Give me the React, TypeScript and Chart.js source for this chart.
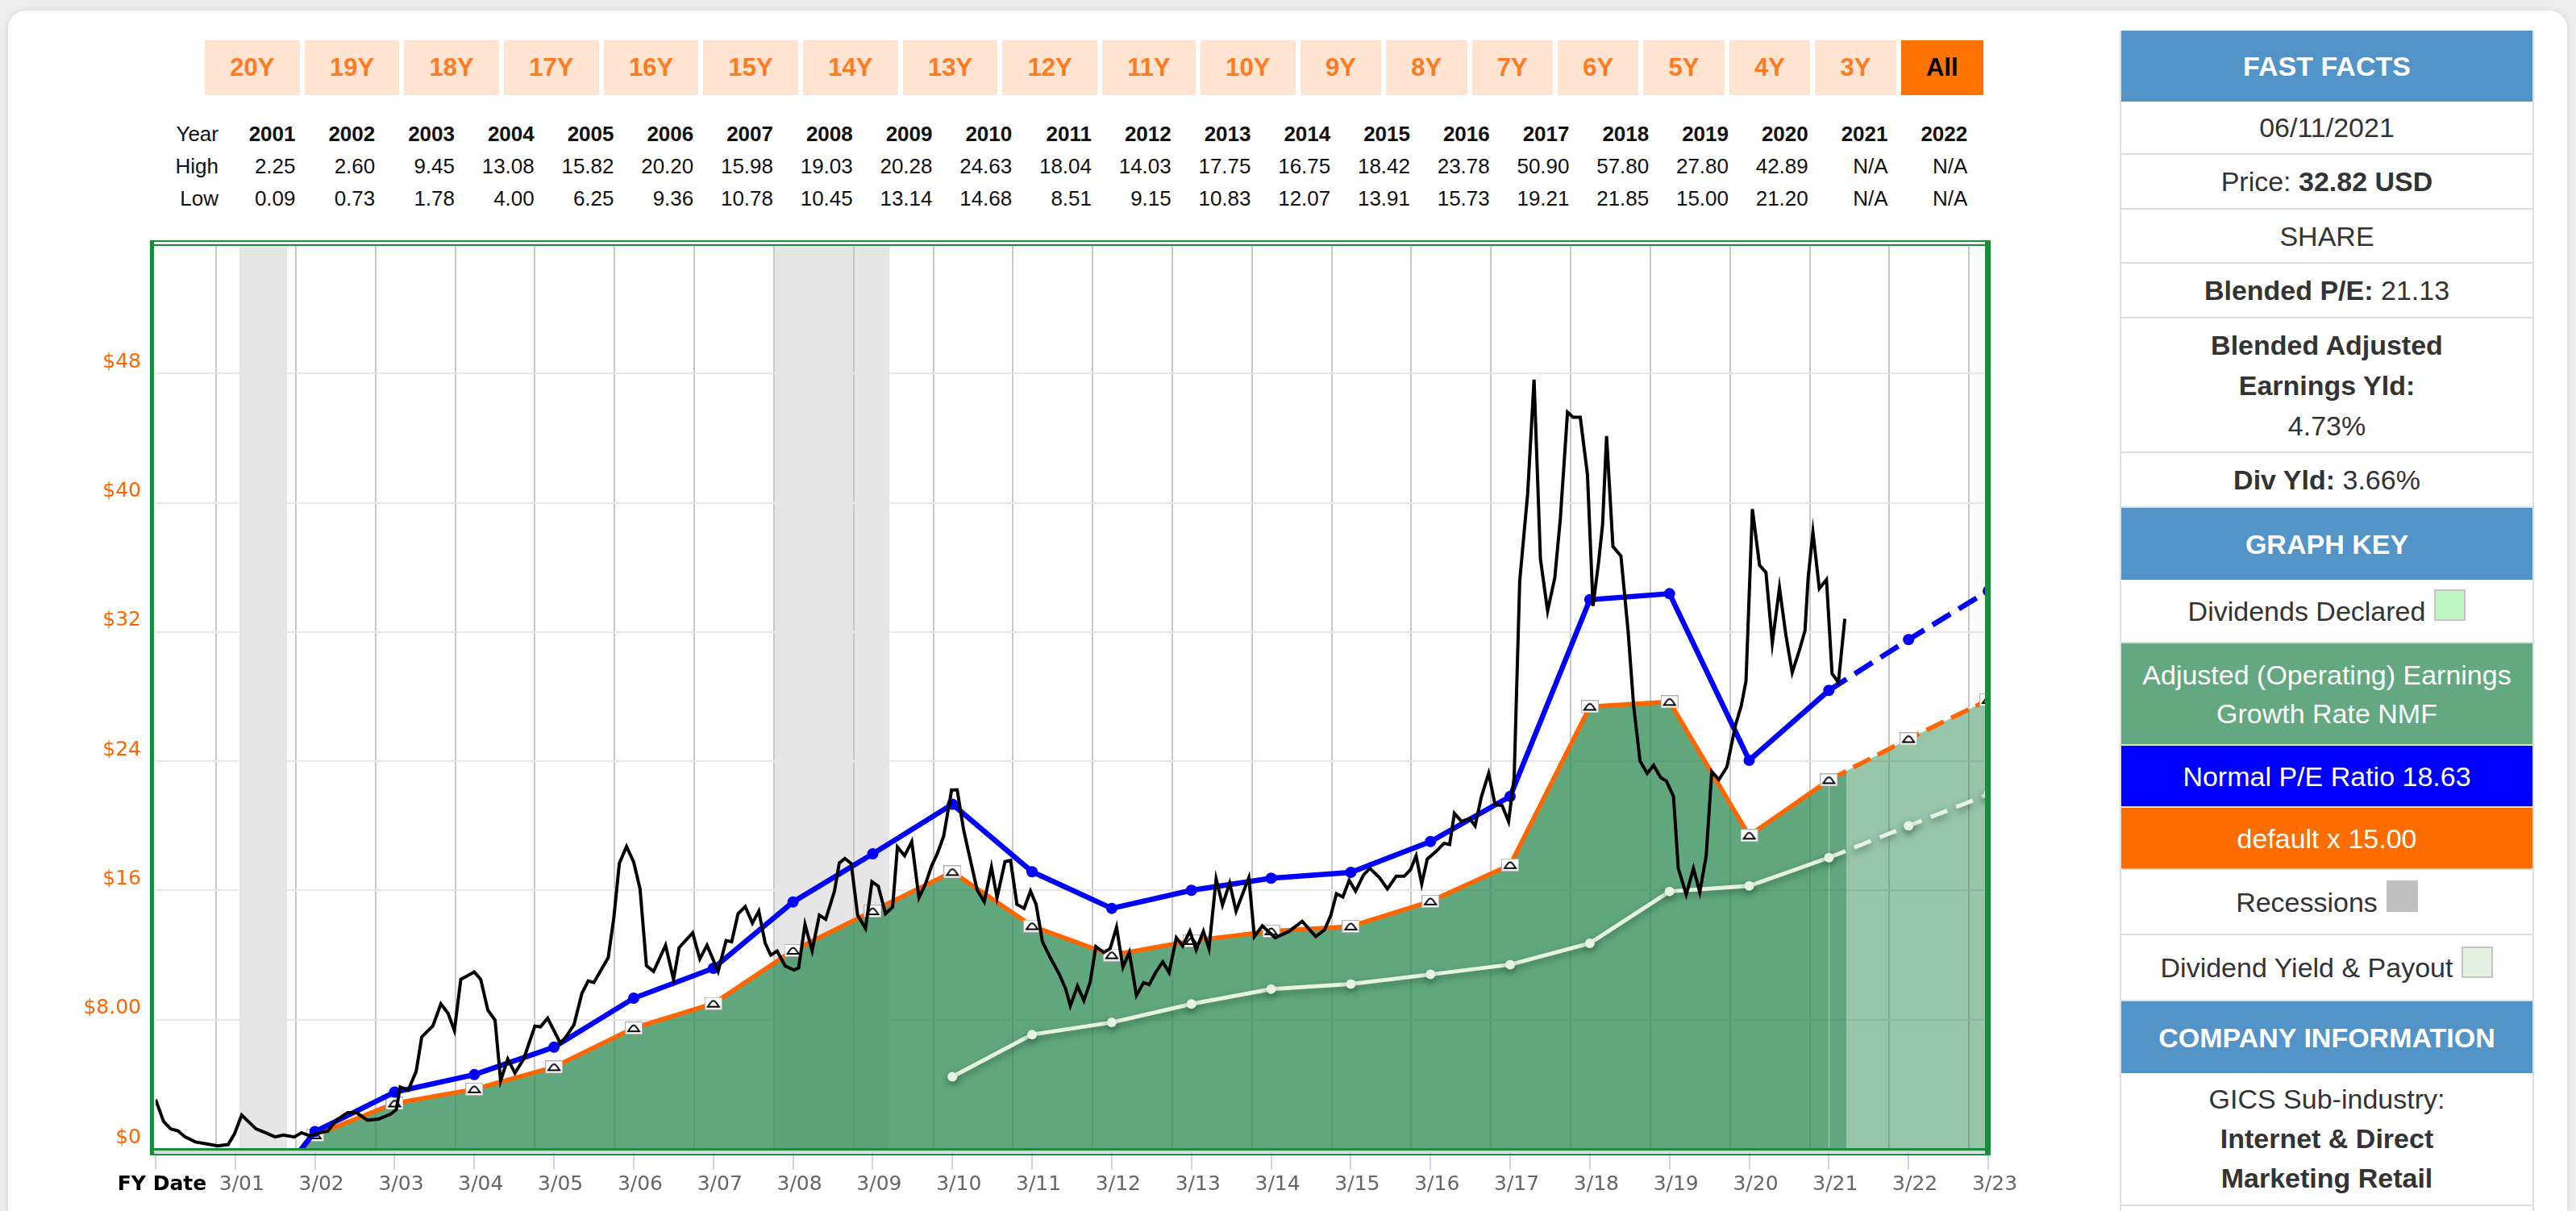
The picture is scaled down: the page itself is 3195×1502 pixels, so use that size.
import React, { useEffect, useRef } from 'react';
import { Chart, registerables } from 'chart.js';

Chart.register(...registerables);

// ---------- DATA ----------
// x values are fiscal-year indexes: 0 = 3/00, 1 = 3/01, ... 23 = 3/23
const fiscalYearIdx = [1, 2, 3, 4, 5, 6, 7, 8, 9, 10, 11, 12, 13, 14, 15, 16, 17, 18, 19, 20, 21, 22, 23];
const earningsX15 = [-4.2, 0.85, 2.82, 3.7, 5.07, 7.48, 9.0, 12.28, 14.72, 17.15, 13.8, 12.0, 12.88, 13.48, 13.78, 15.33, 17.58, 27.38, 27.68, 19.4, 22.84, 25.38, 27.8];
const normalPE = [-5.2, 1.07, 3.52, 4.6, 6.3, 9.33, 11.18, 15.29, 18.27, 21.34, 17.16, 14.89, 16.01, 16.76, 17.12, 19.03, 21.82, 34.0, 34.37, 24.06, 28.39, 31.53, 34.54];
const dividendIdx = [10, 11, 12, 13, 14, 15, 16, 17, 18, 19, 20, 21, 22, 23];
const dividendLine = [4.47, 7.08, 7.83, 8.97, 9.89, 10.21, 10.8, 11.41, 12.73, 15.94, 16.28, 18.03, 20.0, 21.95];

const priceT = [
  0.0, 0.1, 0.19, 0.28, 0.37, 0.5, 0.64, 0.78, 0.91, 0.99, 1.08, 1.26, 1.38, 1.5, 1.6, 1.74, 1.83, 1.94, 2.06, 2.16,
  2.27, 2.41, 2.52, 2.66, 2.8, 2.95, 3.02, 3.07, 3.17, 3.27, 3.34, 3.48, 3.58, 3.67, 3.75, 3.83, 4.0, 4.08, 4.17, 4.26,
  4.33, 4.42, 4.51, 4.62, 4.76, 4.83, 4.92, 5.08, 5.15, 5.25, 5.35, 5.43, 5.5, 5.68, 5.75, 5.82, 5.91, 6.0, 6.08, 6.16,
  6.25, 6.4, 6.5, 6.57, 6.74, 6.83, 6.92, 7.06, 7.16, 7.23, 7.31, 7.4, 7.49, 7.57, 7.65, 7.72, 7.8, 7.9, 8.01, 8.07,
  8.15, 8.24, 8.33, 8.41, 8.52, 8.58, 8.65, 8.73, 8.81, 8.91, 8.99, 9.07, 9.16, 9.25, 9.31, 9.4, 9.49, 9.58, 9.66, 9.74,
  9.81, 9.89, 9.99, 10.06, 10.14, 10.23, 10.31, 10.4, 10.49, 10.56, 10.66, 10.73, 10.81, 10.9, 10.98, 11.05, 11.13, 11.23, 11.34, 11.42,
  11.48, 11.57, 11.65, 11.73, 11.8, 11.9, 11.98, 12.06, 12.14, 12.22, 12.31, 12.4, 12.47, 12.55, 12.64, 12.72, 12.81, 12.89, 12.98, 13.06,
  13.15, 13.22, 13.31, 13.39, 13.48, 13.56, 13.72, 13.79, 13.89, 14.05, 14.23, 14.39, 14.56, 14.67, 14.75, 14.82, 14.9, 14.98, 15.06, 15.16,
  15.24, 15.36, 15.46, 15.57, 15.67, 15.75, 15.82, 15.89, 15.96, 16.07, 16.17, 16.24, 16.3, 16.39, 16.49, 16.56, 16.64, 16.73, 16.81, 16.9,
  16.98, 17.05, 17.12, 17.22, 17.3, 17.38, 17.47, 17.56, 17.63, 17.72, 17.79, 17.88, 17.97, 18.04, 18.11, 18.16, 18.21, 18.29, 18.39, 18.48,
  18.55, 18.63, 18.72, 18.8, 18.89, 18.96, 19.05, 19.11, 19.21, 19.3, 19.38, 19.46, 19.53, 19.62, 19.72, 19.83, 19.9, 19.96, 20.04, 20.13,
  20.21, 20.29, 20.38, 20.46, 20.54, 20.63, 20.7, 20.74, 20.8, 20.88, 20.97, 21.04, 21.12, 21.2,
];
const priceV = [
  3.06, 1.7, 1.24, 1.12, 0.74, 0.43, 0.31, 0.19, 0.27, 0.93, 2.09, 1.24, 1.0, 0.74, 0.86, 0.74, 1.0, 0.8, 1.0, 1.1,
  1.78, 2.24, 2.24, 1.78, 1.85, 2.16, 2.43, 3.83, 3.64, 4.8, 6.93, 7.62, 8.98, 8.4, 7.33, 10.49, 10.95, 10.5, 8.59, 7.97,
  4.22, 5.57, 4.7, 5.57, 7.6, 7.56, 8.09, 6.54, 6.93, 7.68, 9.63, 10.4, 10.3, 11.84, 14.27, 17.68, 18.72, 17.76, 16.09, 11.34,
  10.99, 12.61, 10.49, 12.46, 13.38, 11.76, 12.61, 10.99, 12.9, 12.82, 14.56, 15.0, 13.98, 14.72, 12.74, 12.0, 12.25, 11.33, 11.08, 11.2,
  13.9, 12.27, 14.47, 14.22, 15.96, 17.7, 17.98, 17.67, 14.47, 13.65, 16.54, 16.26, 14.56, 14.97, 18.69, 18.15, 19.02, 15.55, 16.38, 17.53,
  18.27, 19.35, 22.22, 22.22, 19.77, 17.78, 16.05, 15.3, 17.45, 15.55, 17.78, 17.86, 15.14, 14.89, 15.96, 15.14, 12.82, 11.83, 10.83, 9.93,
  8.85, 10.09, 9.18, 10.34, 12.52, 12.16, 12.4, 13.73, 11.25, 12.16, 9.51, 10.3, 10.17, 10.92, 11.58, 10.92, 13.07, 12.57, 13.48, 12.32,
  13.48, 12.4, 16.71, 15.1, 16.46, 14.72, 16.79, 13.15, 13.81, 13.07, 13.48, 14.09, 13.15, 13.56, 14.47, 15.8, 15.6, 16.63, 15.96, 16.96,
  17.37, 16.79, 16.1, 16.88, 16.88, 17.29, 18.14, 16.4, 17.95, 18.41, 18.92, 18.84, 20.77, 20.27, 20.46, 20.0, 21.82, 23.25, 21.32, 21.25,
  20.27, 22.98, 35.16, 40.58, 47.62, 36.52, 33.3, 35.35, 39.03, 45.61, 45.3, 45.3, 41.74, 33.61, 36.33, 38.65, 44.13, 37.29, 36.71, 32.07,
  27.42, 24.02, 23.25, 23.75, 22.98, 22.78, 21.82, 17.37, 15.75, 17.37, 15.9, 18.14, 23.36, 22.86, 23.64, 26.27, 27.42, 28.97, 39.61, 36.13,
  35.69, 31.32, 34.74, 31.82, 29.49, 30.87, 32.08, 35.36, 38.17, 34.69, 35.25, 29.42, 28.89, 32.82,
];

const recessionStart = [1.05, 7.76];
const recessionEnd = [1.65, 9.21];
const todayIdx = 21.22; // 06/11/2021
const lastActualIdx = 21;

const rangeButtons = ['20Y', '19Y', '18Y', '17Y', '16Y', '15Y', '14Y', '13Y', '12Y', '11Y', '10Y', '9Y', '8Y', '7Y', '6Y', '5Y', '4Y', '3Y', 'All'];
const tableYears = ['2001', '2002', '2003', '2004', '2005', '2006', '2007', '2008', '2009', '2010', '2011', '2012', '2013', '2014', '2015', '2016', '2017', '2018', '2019', '2020', '2021', '2022'];
const tableHigh = ['2.25', '2.60', '9.45', '13.08', '15.82', '20.20', '15.98', '19.03', '20.28', '24.63', '18.04', '14.03', '17.75', '16.75', '18.42', '23.78', '50.90', '57.80', '27.80', '42.89', 'N/A', 'N/A'];
const tableLow = ['0.09', '0.73', '1.78', '4.00', '6.25', '9.36', '10.78', '10.45', '13.14', '14.68', '8.51', '9.15', '10.83', '12.07', '13.91', '15.73', '19.21', '21.85', '15.00', '21.20', 'N/A', 'N/A'];

const xTickIdx = [0, 1, 2, 3, 4, 5, 6, 7, 8, 9, 10, 11, 12, 13, 14, 15, 16, 17, 18, 19, 20, 21, 22, 23];
const yTickValues = [0, 8, 16, 24, 32, 40, 48, 56];

// ---------- STYLE ----------
const GREEN_BORDER = '#1a8c3c';
const FILL_DARK = 'rgba(48,140,86,0.76)';
const FILL_LIGHT = 'rgba(48,140,86,0.5)';
const DIV_COLOR = '#e6f2e2';
const HEADER_BLUE = '#5294c8';
const UI_FONT = '"Liberation Sans", Arial, Helvetica, sans-serif';
const AXIS_FONT = '"DejaVu Sans", Verdana, sans-serif';

function pad2(n: number) {
  return String(n).padStart(2, '0');
}

export default function App() {
  const canvasRef = useRef<HTMLCanvasElement | null>(null);

  useEffect(() => {
    const canvas = canvasRef.current;
    if (!canvas) return;

    // earnings marker icon
    const icon = document.createElement('canvas');
    icon.width = 22;
    icon.height = 16;
    const ic = icon.getContext('2d')!;
    ic.fillStyle = '#ffffff';
    ic.fillRect(0, 0, 22, 16);
    ic.strokeStyle = '#b0b0b0';
    ic.lineWidth = 1;
    ic.strokeRect(0.5, 0.5, 21, 15);
    ic.strokeStyle = '#000000';
    ic.lineWidth = 2;
    ic.beginPath();
    ic.moveTo(4, 12);
    ic.lineTo(18, 12);
    ic.lineTo(14.5, 7);
    ic.quadraticCurveTo(11, 2, 7.5, 7);
    ic.closePath();
    ic.stroke();

    const dashAfter = (pattern: number[]) => (ctx: any) =>
      ctx.p0.parsed.x >= lastActualIdx ? pattern : undefined;

    const fillGradient = (ctx: any) => {
      const chart = ctx.chart;
      const ca = chart.chartArea;
      if (!ca) return FILL_DARK;
      const xs = chart.scales.x;
      const px = xs.getPixelForValue(todayIdx);
      const f = Math.min(1, Math.max(0, (px - ca.left) / (ca.right - ca.left)));
      const g = chart.ctx.createLinearGradient(ca.left, 0, ca.right, 0);
      g.addColorStop(0, FILL_DARK);
      g.addColorStop(f, FILL_DARK);
      g.addColorStop(f, FILL_LIGHT);
      g.addColorStop(1, FILL_LIGHT);
      return g;
    };

    const bandsPlugin = {
      id: 'recessionBands',
      beforeDraw(chart: any) {
        const { ctx, chartArea: ca, scales } = chart;
        const xs = scales.x;
        ctx.save();
        ctx.fillStyle = '#e6e6e6';
        recessionStart.forEach((s, i) => {
          const x0 = xs.getPixelForValue(s);
          const x1 = xs.getPixelForValue(recessionEnd[i]);
          ctx.fillRect(x0, ca.top, x1 - x0, ca.bottom - ca.top);
        });
        ctx.restore();
      },
    };

    const glowPlugin = {
      id: 'dividendGlow',
      beforeDatasetDraw(chart: any, args: any) {
        if (args.index === 2) {
          const c = chart.ctx;
          c.save();
          c.shadowColor = 'rgba(20,70,35,0.55)';
          c.shadowBlur = 10;
          c.shadowOffsetY = 4;
        }
      },
      afterDatasetDraw(chart: any, args: any) {
        if (args.index === 2) chart.ctx.restore();
      },
    };

    const framePlugin = {
      id: 'frame',
      afterDraw(chart: any) {
        const { ctx, chartArea: ca } = chart;
        ctx.save();
        ctx.fillStyle = '#ccd6eb';
        ctx.fillRect(ca.left - 2, ca.bottom + 2, ca.right - ca.left + 4, 3);
        ctx.fillStyle = GREEN_BORDER;
        const L = ca.left - 7;
        const R = ca.right + 3;
        const T = ca.top - 5;
        const B = ca.bottom + 8;
        ctx.fillRect(L, T, 5, B - T);
        ctx.fillRect(ca.right - 4, T, 7, B - T);
        ctx.fillRect(L, T, R - L, 2);
        ctx.fillRect(L, ca.top, R - L, 2);
        ctx.fillRect(L, ca.bottom - 1, R - L, 3);
        ctx.fillRect(L, ca.bottom + 6, R - L, 2);
        ctx.restore();
      },
    };

    const chart = new Chart(canvas, {
      type: 'line',
      data: {
        datasets: [
          {
            label: 'Price',
            data: priceT.map((t, i) => ({ x: t, y: priceV[i] })),
            borderColor: '#000000',
            borderWidth: 4,
            pointRadius: 0,
            tension: 0,
            fill: false,
            order: 0,
          },
          {
            label: 'Normal P/E Ratio 18.63',
            data: fiscalYearIdx.map((t, i) => ({ x: t, y: normalPE[i] })),
            borderColor: '#0000ff',
            borderWidth: 6.5,
            pointRadius: 7,
            pointBackgroundColor: '#0000ff',
            pointBorderWidth: 0,
            fill: false,
            segment: { borderDash: dashAfter([26, 12]) },
            order: 1,
          },
          {
            label: 'Dividends',
            data: dividendIdx.map((t, i) => ({ x: t, y: dividendLine[i] })),
            borderColor: DIV_COLOR,
            borderWidth: 5,
            pointRadius: 6,
            pointBackgroundColor: DIV_COLOR,
            pointBorderWidth: 0,
            fill: false,
            segment: { borderDash: dashAfter([22, 12]) },
            order: 2,
          },
          {
            label: 'default x 15.00',
            data: fiscalYearIdx.map((t, i) => ({ x: t, y: earningsX15[i] })),
            borderColor: '#ff6600',
            borderWidth: 5.5,
            pointStyle: icon as any,
            pointRadius: 9,
            backgroundColor: fillGradient as any,
            fill: 'origin',
            segment: { borderDash: dashAfter([24, 10]) },
            order: 3,
          },
        ],
      },
      options: {
        responsive: false,
        animation: false,
        devicePixelRatio: 1,
        layout: { padding: { left: 0, top: 24, right: 134, bottom: 0 } },
        plugins: {
          legend: { display: false },
          tooltip: { enabled: false },
        },
        scales: {
          x: {
            type: 'linear',
            position: 'bottom',
            min: 0,
            max: 23,
            afterFit: (s: any) => {
              s.height = 77;
            },
            afterBuildTicks: (s: any) => {
              s.ticks = xTickIdx.map((v) => ({ value: v }));
            },
            grid: {
              drawOnChartArea: false,
              drawTicks: true,
              tickLength: 26,
              tickColor: '#ccd6eb',
              tickWidth: 2,
              color: '#ccd6eb',
              lineWidth: 2,
            },
            border: { display: false },
            ticks: {
              autoSkip: false,
              maxRotation: 0,
              minRotation: 0,
              labelOffset: 8,
              padding: 3,
              font: ((ctx: any) =>
                ctx.index === 0
                  ? { family: AXIS_FONT, size: 25, weight: 'bold' }
                  : { family: AXIS_FONT, size: 25 }) as any,
              color: ((ctx: any) => (ctx.index === 0 ? '#000000' : '#666666')) as any,
              callback: (v: any) => (Number(v) === 0 ? 'FY Date' : '3/' + pad2(Number(v))),
            },
          },
          xGrid: {
            type: 'linear',
            position: 'bottom',
            min: 0,
            max: 23,
            afterFit: (s: any) => {
              s.height = 0;
            },
            afterBuildTicks: (s: any) => {
              s.ticks = fiscalYearIdx.map((k) => ({ value: k - 0.24 }));
            },
            grid: { color: '#c8c8c8', lineWidth: 2, drawTicks: false },
            border: { display: false },
            ticks: { display: false },
          },
          y: {
            type: 'linear',
            min: 0,
            max: 56,
            afterFit: (s: any) => {
              s.width = 193;
            },
            afterBuildTicks: (s: any) => {
              s.ticks = yTickValues.map((v) => ({ value: v }));
            },
            grid: { color: '#e6e6e6', lineWidth: 2, drawTicks: false },
            border: { display: false },
            ticks: {
              padding: 18,
              labelOffset: -14,
              color: '#ff6600',
              font: { family: AXIS_FONT, size: 25 },
              callback: (v: any) => {
                const n = Number(v);
                if (n === 56) return '';
                if (n === 8) return '$8.00';
                return '$' + n;
              },
            },
          },
        },
      } as any,
      plugins: [bandsPlugin, glowPlugin, framePlugin],
    });

    return () => {
      chart.destroy();
    };
  }, []);

  const rowBase: React.CSSProperties = {
    boxSizing: 'border-box',
    display: 'flex',
    alignItems: 'center',
    justifyContent: 'center',
    textAlign: 'center',
    fontSize: 34,
    lineHeight: '50px',
    color: '#333333',
    borderBottom: '2px solid #dddddd',
  };
  const header = (text: string, h: number): React.ReactNode => (
    <div
      style={{
        ...rowBase,
        height: h,
        background: HEADER_BLUE,
        color: '#ffffff',
        fontWeight: 'bold',
        borderBottom: 'none',
      }}
    >
      {text}
    </div>
  );
  const swatch = (bg: string, border: string): React.ReactNode => (
    <span
      style={{
        display: 'inline-block',
        width: 35,
        height: 35,
        background: bg,
        border: border,
        marginLeft: 11,
        verticalAlign: 'middle',
        position: 'relative',
        top: -10,
      }}
    />
  );

  return (
    <div
      style={{
        position: 'absolute',
        left: 0,
        top: 0,
        width: 3195,
        height: 1502,
        overflow: 'hidden',
        background: '#eeeeee',
        fontFamily: UI_FONT,
      }}
    >
      <div
        style={{
          position: 'absolute',
          left: 10,
          top: 13,
          width: 3174,
          height: 1560,
          background: '#ffffff',
          borderRadius: 22,
          boxShadow: '0 0 8px rgba(0,0,0,0.10)',
        }}
      />

      {/* range buttons */}
      <div style={{ position: 'absolute', left: 254, top: 50, height: 68, display: 'flex', gap: 6 }}>
        {rangeButtons.map((b) => (
          <div
            key={b}
            style={{
              height: 68,
              lineHeight: '68px',
              padding: '0 31.25px',
              fontSize: 31,
              fontWeight: 'bold',
              background: b === 'All' ? '#ff7300' : '#ffe4d2',
              color: b === 'All' ? '#000000' : '#ff7b22',
            }}
          >
            {b}
          </div>
        ))}
      </div>

      {/* high/low table */}
      {[
        { label: 'Year', cells: tableYears, bold: true },
        { label: 'High', cells: tableHigh, bold: false },
        { label: 'Low', cells: tableLow, bold: false },
      ].map((row, r) => (
        <div key={row.label} style={{ position: 'absolute', left: 0, top: 146 + r * 40, height: 40, width: 2600 }}>
          <div
            style={{
              position: 'absolute',
              left: 171,
              width: 100,
              textAlign: 'right',
              fontSize: 26,
              lineHeight: '40px',
              color: '#111111',
            }}
          >
            {row.label}
          </div>
          {row.cells.map((c, i) => (
            <div
              key={i}
              style={{
                position: 'absolute',
                left: 271 + i * 98.75,
                width: 95.5,
                textAlign: 'right',
                fontSize: 26,
                lineHeight: '40px',
                fontWeight: row.bold ? 'bold' : 'normal',
                color: '#111111',
              }}
            >
              {c}
            </div>
          ))}
        </div>
      ))}

      {/* chart */}
      <canvas
        ref={canvasRef}
        width={2600}
        height={1232}
        style={{ position: 'absolute', left: 0, top: 270, width: 2600, height: 1232 }}
      />

      {/* right panel */}
      <div
        style={{
          position: 'absolute',
          left: 2629,
          top: 38,
          width: 514,
          height: 1500,
          boxSizing: 'border-box',
          borderLeft: '2px solid #e0e0e0',
          borderRight: '2px solid #e0e0e0',
        }}
      >
        {header('FAST FACTS', 88)}
        <div style={{ ...rowBase, height: 66 }}>06/11/2021</div>
        <div style={{ ...rowBase, height: 68 }}>
          <span>
            Price: <b>32.82 USD</b>
          </span>
        </div>
        <div style={{ ...rowBase, height: 67 }}>SHARE</div>
        <div style={{ ...rowBase, height: 68 }}>
          <span>
            <b>Blended P/E:</b> 21.13
          </span>
        </div>
        <div style={{ ...rowBase, height: 167 }}>
          <span>
            <b>Blended Adjusted</b>
            <br />
            <b>Earnings Yld:</b>
            <br />
            4.73%
          </span>
        </div>
        <div style={{ ...rowBase, height: 68 }}>
          <span>
            <b>Div Yld:</b> 3.66%
          </span>
        </div>
        {header('GRAPH KEY', 89)}
        <div style={{ ...rowBase, height: 79 }}>
          <span>
            Dividends Declared{swatch('#bdf7c4', '2px solid #c4c4c4')}
          </span>
        </div>
        <div style={{ ...rowBase, height: 127, background: '#63a880', color: '#ffffff', lineHeight: '48px' }}>
          <span>
            Adjusted (Operating) Earnings
            <br />
            Growth Rate NMF
          </span>
        </div>
        <div style={{ ...rowBase, height: 77, background: '#0000ff', color: '#ffffff' }}>Normal P/E Ratio 18.63</div>
        <div style={{ ...rowBase, height: 77, background: '#ff6c00', color: '#ffffff' }}>default x 15.00</div>
        <div style={{ ...rowBase, height: 81 }}>
          <span>
            Recessions{swatch('#c0c0c0', '2px solid #c0c0c0')}
          </span>
        </div>
        <div style={{ ...rowBase, height: 82 }}>
          <span>
            Dividend Yield &amp; Payout{swatch('#e5f1e1', '2px solid #c4c4c4')}
          </span>
        </div>
        {header('COMPANY INFORMATION', 89)}
        <div style={{ ...rowBase, height: 165, lineHeight: '49px' }}>
          <span>
            GICS Sub-industry:
            <br />
            <b>Internet &amp; Direct</b>
            <br />
            <b>Marketing Retail</b>
          </span>
        </div>
        <div style={{ ...rowBase, height: 100, borderBottom: 'none' }} />
      </div>
    </div>
  );
}
